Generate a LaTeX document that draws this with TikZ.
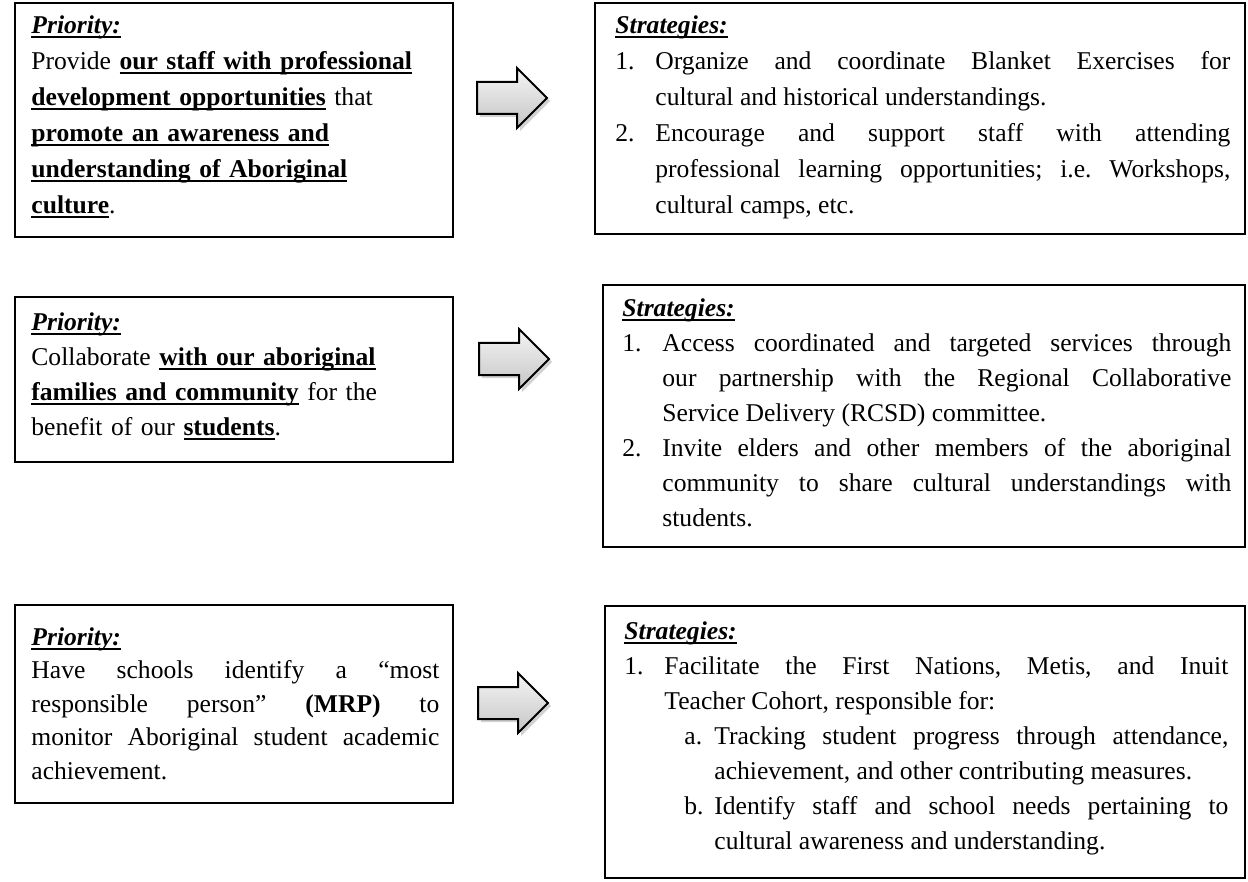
\documentclass[tikz,border=0pt]{standalone}
\usepackage{fontspec}
\setmainfont{Liberation Serif}
\usetikzlibrary{shadows,fit}
\frenchspacing
\newcommand{\bul}[1]{\leavevmode\setbox0\hbox{\textbf{#1}}\rlap{\rule[-2.4pt]{\wd0}{0.9pt}}\box0\relax}
\newcommand{\ttl}[1]{\leavevmode\vrule height 10pt depth 0pt width 0pt\setbox0\hbox{\textbf{\textit{#1}}}\rlap{\rule[-2.4pt]{\wd0}{0.9pt}}\box0\relax}
\newcommand{\lleftlabel}[1]{#1\hfil}
\newenvironment{numlist}[2]{\begin{list}{}{\setlength{\leftmargin}{#1}\setlength{\labelwidth}{#2}\setlength{\labelsep}{0pt}\setlength{\topsep}{0pt}\setlength{\partopsep}{0pt}\setlength{\itemsep}{0pt}\setlength{\parsep}{0pt}\setlength{\itemindent}{0pt}\let\makelabel\lleftlabel}}{\end{list}}
\tikzset{
  box/.style={draw=black, line width=1pt, inner sep=0pt},
  txt/.style={anchor=north west, inner sep=0pt},
  spA/.style={font=\fontsize{12.8}{18}\selectfont},
  spB/.style={font=\fontsize{12.8}{17.5}\selectfont},
  spC/.style={font=\fontsize{12.8}{16.75}\selectfont},
  blockarrow/.style={draw=black, line width=1pt, line join=miter, top color=gray!8, bottom color=gray!45,
    drop shadow={opacity=0.35, shadow xshift=1.5pt, shadow yshift=-1.5pt}}
}
\newcommand{\blockarr}[2]{%
  \path[blockarrow] (#1-35,#2-16) -- (#1+5,#2-16) -- (#1+5,#2-30) -- (#1+35,#2) -- (#1+5,#2+30) -- (#1+5,#2+16) -- (#1-35,#2+16) -- cycle;}
\begin{document}
\begin{tikzpicture}[x=0.5pt,y=-0.5pt]
\fill[white] (0,0) rectangle (1248,882);
\useasboundingbox (0,0) rectangle (1248,882);

% row 1
\coordinate (p1a) at (15,3); \coordinate (p1b) at (453,237);
\node[box, fit=(p1a)(p1b)] (p1) {};
\node[txt, spA, text width=205pt, align=left] (p1t) at (31,13) {%
\ttl{Priority:}\\
Provide \bul{our staff with professional}\\
\bul{development opportunities} that\\
\bul{promote an awareness and}\\
\bul{understanding of Aboriginal}\\
\bul{culture}.};

\coordinate (s1a) at (595,3); \coordinate (s1b) at (1245,234);
\node[box, fit=(s1a)(s1b)] (s1) {};
\node[txt, spA, text width=307.5pt, align=justify] (s1t) at (615,13) {%
\ttl{Strategies:}
\begin{numlist}{20pt}{20pt}
\item[1.] Organize and coordinate Blanket Exercises for\linebreak cultural and historical understandings.
\item[2.] Encourage and support staff with attending\linebreak professional learning opportunities; i.e.\ Workshops,\linebreak cultural camps, etc.
\end{numlist}};

\blockarr{512}{98}

% row 2
\coordinate (p2a) at (15,297); \coordinate (p2b) at (453,462);
\node[box, fit=(p2a)(p2b)] (p2) {};
\node[txt, spB, text width=205pt, align=left] (p2t) at (31,310) {%
\ttl{Priority:}\\
Collaborate \bul{with our aboriginal}\\
\bul{families and community} for the\\
benefit of our \bul{students}.};

\coordinate (s2a) at (603,285); \coordinate (s2b) at (1245,547);
\node[box, fit=(s2a)(s2b)] (s2) {};
\node[txt, spB, text width=304.5pt, align=justify] (s2t) at (622,296) {%
\ttl{Strategies:}
\begin{numlist}{20pt}{20pt}
\item[1.] Access coordinated and targeted services through\linebreak our partnership with the Regional Collaborative\linebreak Service Delivery (RCSD) committee.
\item[2.] Invite elders and other members of the aboriginal\linebreak community to share cultural understandings with\linebreak students.
\end{numlist}};

\blockarr{514}{359}

% row 3
\coordinate (p3a) at (15,605); \coordinate (p3b) at (453,803);
\node[box, fit=(p3a)(p3b)] (p3) {};
\node[txt, spC, text width=204pt, align=justify] (p3t) at (31,625) {%
\ttl{Priority:}\par
Have schools identify a “most\linebreak responsible person” \textbf{(MRP)} to\linebreak monitor Aboriginal student academic\linebreak achievement.};

\coordinate (s3a) at (605,606); \coordinate (s3b) at (1245,878);
\node[box, fit=(s3a)(s3b)] (s3) {};
\node[txt, spB, text width=302pt, align=justify] (s3t) at (624,619) {%
\ttl{Strategies:}
\begin{numlist}{20pt}{20pt}
\item[1.] Facilitate the First Nations, Metis, and Inuit\linebreak Teacher Cohort, responsible for:
\begin{numlist}{25pt}{15pt}
\item[a.] Tracking student progress through attendance,\linebreak achievement, and other contributing measures.
\item[b.] Identify staff and school needs pertaining to\linebreak cultural awareness and understanding.
\end{numlist}
\end{numlist}};

\blockarr{513}{703}
\end{tikzpicture}
\end{document}
